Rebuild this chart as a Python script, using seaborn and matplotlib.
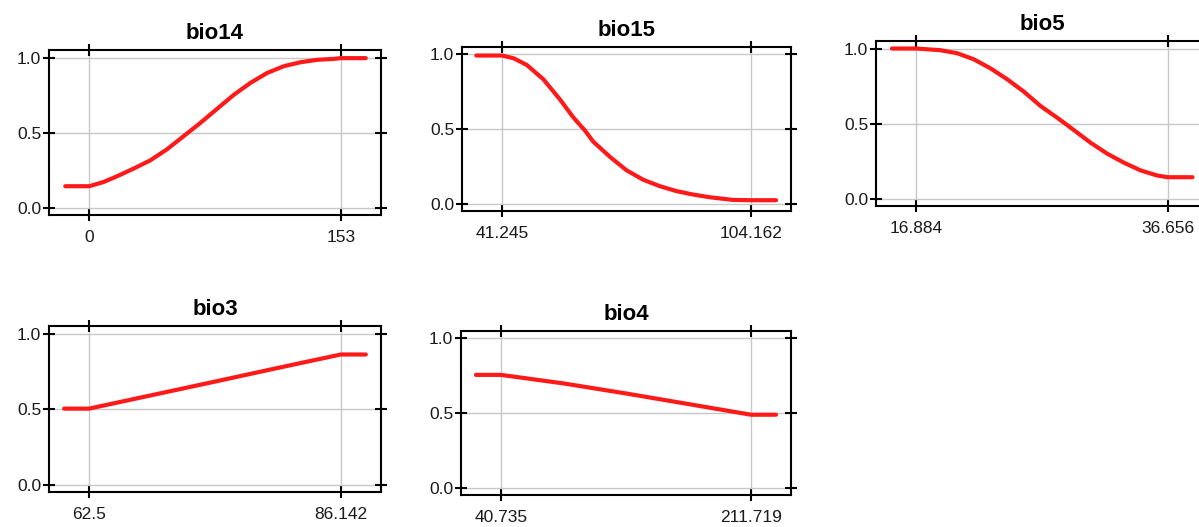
"""
Response curves grid (MaxEnt style) for five bioclim variables.
Saves out.png
"""

import matplotlib
matplotlib.use("Agg")
import matplotlib.pyplot as plt
import seaborn as sns
import numpy as np
import pandas as pd

# --- data ------------------------------------------------------------------
bio14_x = [-14.6, 0, 8.7, 16.9, 27.0, 37.2, 47.3, 57.5, 67.7, 77.8, 88.0, 98.1,
           108.3, 118.5, 128.6, 138.8, 148.9, 153, 168.2]
bio14_y = [0.146, 0.146, 0.174, 0.212, 0.263, 0.318, 0.391, 0.479, 0.567, 0.660, 0.753, 0.832,
           0.898, 0.943, 0.969, 0.985, 0.991, 0.996, 0.996]
bio14_ticks = [0, 153]
bio14_labels = ["0", "153"]

bio15_x = [34.79, 41.245, 44.18, 47.54, 51.73, 55.93, 59.28, 62.22, 64.31, 68.51, 72.70,
           76.90, 81.09, 85.29, 89.48, 93.68, 99.55, 104.162, 110.45]
bio15_y = [0.993, 0.993, 0.975, 0.930, 0.834, 0.699, 0.580, 0.492, 0.418, 0.317, 0.227,
           0.164, 0.121, 0.088, 0.065, 0.047, 0.029, 0.027, 0.027]
bio15_ticks = [41.245, 104.162]
bio15_labels = ["41.245", "104.162"]

bio5_x = [14.97, 16.884, 18.77, 20.09, 21.40, 22.71, 24.03, 25.34, 26.65, 27.96, 28.75,
          30.59, 31.90, 33.22, 34.53, 35.84, 36.656, 38.6]
bio5_y = [1.0, 1.0, 0.989, 0.969, 0.929, 0.869, 0.796, 0.714, 0.619, 0.541, 0.492,
          0.375, 0.302, 0.242, 0.191, 0.157, 0.146, 0.146]
bio5_ticks = [16.884, 36.656]
bio5_labels = ["16.884", "36.656"]

bio3_x = [60.14, 62.5, 68.4, 74.3, 80.2, 86.142, 88.5]
bio3_y = [0.505, 0.505, 0.594, 0.683, 0.773, 0.862, 0.862]
bio3_ticks = [62.5, 86.142]
bio3_labels = ["62.5", "86.142"]

bio4_x = [23.6, 40.735, 83.5, 126.2, 169.0, 211.719, 228.8]
bio4_y = [0.757, 0.757, 0.700, 0.633, 0.562, 0.491, 0.491]
bio4_ticks = [40.735, 211.719]
bio4_labels = ["40.735", "211.719"]

titles = ["bio14", "bio15", "bio5", "bio3", "bio4"]

# --- style ------------------------------------------------------------------
sns.set_style("white")
plt.rcParams["font.family"] = ["Liberation Sans", "DejaVu Sans"]

W, H = 1199, 527
fig = plt.figure(figsize=(W / 100, H / 100), dpi=100)

# axes boxes in pixels: left, top, width, height
boxes = [
    (49, 50, 332, 165),
    (462, 47, 329, 164),
    (876, 41, 332, 165),
    (49, 326, 332, 166),
    (461, 331, 330, 164),
]

panels = [
    (bio14_x, bio14_y, bio14_ticks, bio14_labels),
    (bio15_x, bio15_y, bio15_ticks, bio15_labels),
    (bio5_x, bio5_y, bio5_ticks, bio5_labels),
    (bio3_x, bio3_y, bio3_ticks, bio3_labels),
    (bio4_x, bio4_y, bio4_ticks, bio4_labels),
]

for (l, t, w, h), (xs, ys, ticks, labels), title in zip(boxes, panels, titles):
    ax = fig.add_axes([l / W, (H - t - h) / H, w / W, h / H])
    df = pd.DataFrame({"x": xs, "y": ys})
    sns.lineplot(data=df, x="x", y="y", ax=ax, color="#ff1a1a", linewidth=3.0)

    rng = ticks[1] - ticks[0]
    ax.set_xlim(ticks[0] - 0.16 * rng, ticks[1] + 0.16 * rng)
    ax.set_ylim(-0.045, 1.05)
    ax.set_xticks(ticks)
    ax.set_xticklabels(labels)
    ax.set_yticks([0.0, 0.5, 1.0])
    ax.set_yticklabels(["0.0", "0.5", "1.0"])
    ax.grid(True, color="#c8c8c8", linewidth=1.0)
    ax.set_axisbelow(True)

    for sp in ax.spines.values():
        sp.set_visible(True)
        sp.set_color("black")
        sp.set_linewidth(1.5)

    ax.tick_params(axis="both", direction="inout", length=9, width=1.5,
                   bottom=True, left=True, top=True, right=True,
                   labelsize=12.5, labelcolor="#1a1a1a", color="black")
    ax.tick_params(axis="x", pad=6)
    ax.tick_params(axis="y", pad=1)
    ax.set_xlabel("")
    ax.set_ylabel("")
    ax.set_title(title, fontsize=16, fontweight="bold", pad=8, color="black")

fig.savefig("out.png", dpi=100)
